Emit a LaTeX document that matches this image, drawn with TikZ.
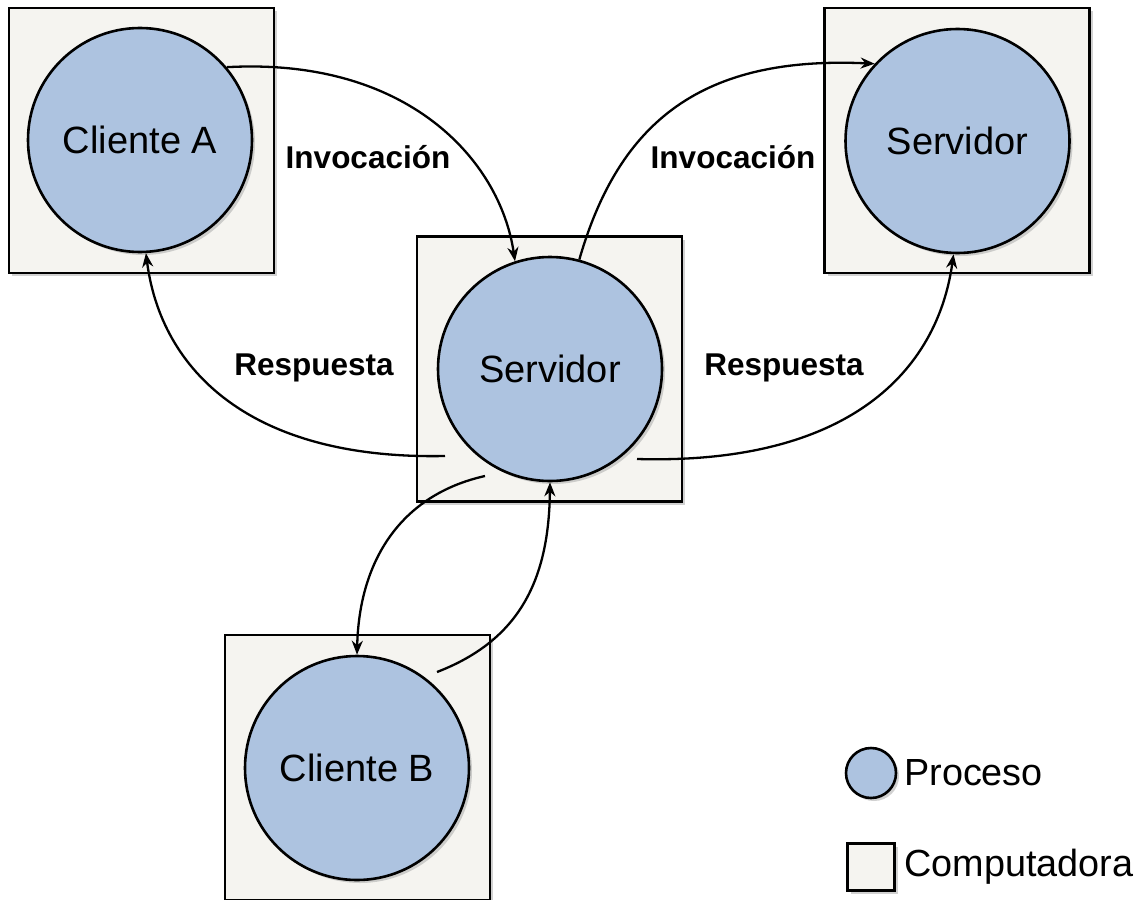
\documentclass[tikz,border=0pt]{standalone}
\usepackage{fontspec}
\setmainfont{Liberation Sans}
\usetikzlibrary{arrows.meta,shadows,calc}
\definecolor{procfill}{RGB}{173,195,224}
\definecolor{compfill}{RGB}{245,244,240}
\begin{document}
\begin{tikzpicture}[x=1pt,y=-1pt,
  comp/.style={draw=black,line width=2.6pt,fill=compfill,rectangle,minimum size=265pt,inner sep=0pt,
    drop shadow={shadow xshift=3pt,shadow yshift=-3pt,fill=black!30,opacity=0.6}},
  proc/.style={draw=black,line width=2.6pt,fill=procfill,circle,minimum size=224pt,inner sep=0pt,
    font=\fontsize{38}{45}\selectfont,
    drop shadow={shadow xshift=3pt,shadow yshift=-3pt,fill=black!30,opacity=0.6}},
  link/.style={line width=2.3pt,-{Stealth[length=14pt,width=11pt]}},
  lbl/.style={font=\fontsize{31.5}{38}\selectfont\bfseries,inner sep=0pt},
  legtxt/.style={font=\fontsize{37.8}{45}\selectfont,inner sep=0pt,anchor=west}]
\useasboundingbox (0,0) rectangle (1139,899);

% computers
\node[comp] (boxA) at (141.5,140.5) {};
\node[comp] (boxS) at (549.5,369) {};
\node[comp] (boxR) at (957,140.5) {};
\node[comp] (boxB) at (357.5,767.5) {};

% processes
\node[proc] (cA) at (140,140) {Cliente A};
\node[proc] (srv) at (550,369) {Servidor};
\node[proc] (sR) at (957.5,141) {Servidor};
\node[proc] (cB) at (357,768) {Cliente B};

% free ends of the reply connectors
\coordinate (rL) at ($(srv.center)+(-105,87)$);
\coordinate (rR) at ($(srv.center)+(87,90)$);
\coordinate (toB) at ($(srv.center)+(-65,107)$);
\coordinate (fromB) at ($(cB.center)+(80,-96)$);

% invocations
\draw[link] (cA.40) .. controls +(180,-10) and +(-15,-102) .. (srv.108);
\draw[link] (srv.75) .. controls +(40,-139) and +(-172,-8) .. (sR.137);
% replies
\draw[link] (rL) .. controls +(-195,4) and +(15,117) .. (cA.-87);
\draw[link] (rR) .. controls +(213,6) and +(-16,116) .. (sR.-92);
% client B exchange
\draw[link] (toB) .. controls +(-85,19) and +(2,-93) .. (cB.90);
\draw[link] (fromB) .. controls +(83,-32) and +(-1,97) .. (srv.-90);

% connector labels
\node[lbl] (inv1) at (368,157) {Invocación};
\node[lbl] (inv2) at (733,157) {Invocación};
\node[lbl] (res1) at (314,368) {Respuesta};
\node[lbl] (res2) at (784,368) {Respuesta};

% legend
\node[proc,minimum size=50pt] (legP) at (871,773) {};
\node[legtxt] (legPt) at (904,773) {Proceso};
\node[comp,minimum size=47pt] (legC) at (871,867) {};
\node[legtxt] (legCt) at (904,867) {Computadora};
\end{tikzpicture}
\end{document}
